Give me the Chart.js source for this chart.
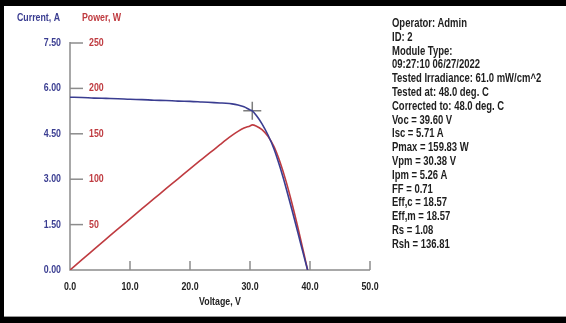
<!DOCTYPE html>
<html lang="en">
<head>
<meta charset="UTF-8">
<title>I-V Curve</title>
<script src="https://cdn.jsdelivr.net/npm/chart.js"></script>
<style>
  html, body { margin: 0; padding: 0; background: #fff; }
  .wrap { position: relative; width: 566px; height: 323px; overflow: hidden; }
  canvas { position: absolute; left: 0; top: 0; }
  .info {
    position: absolute; left: 392px; top: 17px;
    font: bold 12px 'Liberation Sans', Arial, sans-serif;
    line-height: 13.8px; color: #1e1e1e; white-space: nowrap;
    transform: scaleX(0.79); transform-origin: 0 0;
  }
</style>
</head>
<body>
<div class="wrap">
  <canvas id="ivChart" width="566" height="323"></canvas>
  <div class="info" id="info"></div>
</div>
<script>
// values
const voltage = [0, 2, 4, 6, 8, 10, 12, 14, 16, 18, 20, 22, 24, 25, 26, 27, 28, 29, 30, 30.38, 31, 32, 33, 34, 35, 36, 37, 38, 39, 39.6];
const current = [5.71, 5.70, 5.68, 5.67, 5.66, 5.64, 5.63, 5.61, 5.60, 5.58, 5.57, 5.55, 5.53, 5.52, 5.51, 5.49, 5.45, 5.39, 5.29, 5.26, 5.12, 4.83, 4.46, 4.00, 3.40, 2.72, 1.98, 1.22, 0.45, 0];
const power = [0, 11.4, 22.7, 34.0, 45.3, 56.4, 67.6, 78.5, 89.6, 100.4, 111.4, 122.1, 132.7, 138.0, 143.3, 148.2, 152.6, 156.3, 158.7, 159.8, 158.7, 154.6, 147.2, 136.0, 119.0, 97.9, 73.3, 46.4, 17.6, 0];

const currentTicks = [0, 1.5, 3, 4.5, 6, 7.5];
const powerTicks = [50, 100, 150, 200, 250];
const voltageTicks = [0, 10, 20, 30, 40, 50];

const vpm = 30.38;
const ipm = 5.26;

const infoLines = [
  'Operator: Admin',
  'ID: 2',
  'Module Type:',
  '09:27:10 06/27/2022',
  'Tested Irradiance: 61.0 mW/cm^2',
  'Tested at: 48.0 deg. C',
  'Corrected to: 48.0 deg. C',
  'Voc = 39.60 V',
  'Isc = 5.71 A',
  'Pmax = 159.83 W',
  'Vpm = 30.38 V',
  'Ipm = 5.26 A',
  'FF = 0.71',
  'Eff,c = 18.57',
  'Eff,m = 18.57',
  'Rs = 1.08',
  'Rsh = 136.81'
];

const BLUE = '#3a3d91';
const RED = '#bf3b40';
const AXIS = '#8c8c8c';
const FONT = "bold 11px 'Liberation Sans', Arial, sans-serif";
const NARROW = 0.8;

document.getElementById('info').innerHTML = infoLines.map(s => '<div>' + s + '</div>').join('');

// narrow bold text, like the original software's font
function text(ctx, str, x, y, align) {
  ctx.save();
  ctx.translate(x, y);
  ctx.scale(NARROW, 1);
  ctx.textAlign = align;
  ctx.fillText(str, 0, 0);
  ctx.restore();
}

// axes, ticks, labels and frame
const axesPlugin = {
  id: 'axesPlugin',
  beforeDatasetsDraw(chart) {
    const ctx = chart.ctx;
    const x = chart.scales.x, y = chart.scales.y, yp = chart.scales.yp;
    const x0 = x.getPixelForValue(0), y0 = y.getPixelForValue(0);
    ctx.save();
    ctx.strokeStyle = AXIS;
    ctx.lineWidth = 1.5;
    ctx.beginPath();
    ctx.moveTo(x0, y.getPixelForValue(7.5) - 1);
    ctx.lineTo(x0, y0);
    ctx.lineTo(x.getPixelForValue(50), y0);
    ctx.stroke();

    ctx.font = FONT;
    ctx.textBaseline = 'middle';
    // left axis: current labels + tick marks pointing right
    ctx.fillStyle = BLUE;
    currentTicks.forEach(v => {
      const py = y.getPixelForValue(v);
      text(ctx, v.toFixed(2), 61, py, 'right');
      if (v > 0) {
        ctx.beginPath();
        ctx.moveTo(x0, py);
        ctx.lineTo(x0 + 13, py);
        ctx.stroke();
      }
    });
    ctx.fillStyle = RED;
    powerTicks.forEach(v => {
      text(ctx, String(v), 89, yp.getPixelForValue(v), 'left');
    });

    // bottom axis
    ctx.fillStyle = '#222';
    voltageTicks.forEach(v => {
      const px = x.getPixelForValue(v);
      if (v > 0) {
        ctx.beginPath();
        ctx.moveTo(px, y0);
        ctx.lineTo(px, y0 - 9);
        ctx.stroke();
      }
      text(ctx, v.toFixed(1), px, 287, 'center');
    });
    text(ctx, 'Voltage, V', 220, 302, 'center');

    // titles
    ctx.fillStyle = BLUE;
    text(ctx, 'Current, A', 17, 18, 'left');
    ctx.fillStyle = RED;
    text(ctx, 'Power, W', 82, 18, 'left');

    // frame
    ctx.fillStyle = '#000';
    ctx.fillRect(0, 0, chart.width, 6);
    ctx.fillRect(0, 0, 4, chart.height);
    ctx.fillRect(0, 317, chart.width, 6);
    ctx.fillStyle = '#999';
    ctx.fillRect(4, 316, chart.width, 1);
    ctx.restore();
  }
};

const ctx = document.getElementById('ivChart').getContext('2d');
new Chart(ctx, {
  type: 'line',
  data: {
    datasets: [
      {
        label: 'Current',
        data: voltage.map((v, i) => ({ x: v, y: current[i] })),
        borderColor: BLUE,
        borderWidth: 1.6,
        pointRadius: 0,
        cubicInterpolationMode: 'monotone',
        yAxisID: 'y'
      },
      {
        label: 'Power',
        data: voltage.map((v, i) => ({ x: v, y: power[i] })),
        borderColor: RED,
        borderWidth: 1.6,
        pointRadius: 0,
        cubicInterpolationMode: 'monotone',
        yAxisID: 'yp'
      },
      {
        label: 'Max power point',
        type: 'scatter',
        data: [{ x: vpm, y: ipm }],
        pointStyle: 'cross',
        pointRadius: 9,
        borderColor: '#7d7d7d',
        borderWidth: 1.5,
        yAxisID: 'y'
      }
    ]
  },
  options: {
    responsive: false,
    animation: false,
    layout: { padding: { left: 70, right: 196, top: 43, bottom: 53 } },
    plugins: { legend: { display: false }, tooltip: { enabled: false } },
    scales: {
      x: { type: 'linear', min: 0, max: 50, display: false },
      y: { type: 'linear', min: 0, max: 7.5, display: false },
      yp: { type: 'linear', min: 0, max: 250, display: false }
    }
  },
  plugins: [axesPlugin]
});
</script>
</body>
</html>
